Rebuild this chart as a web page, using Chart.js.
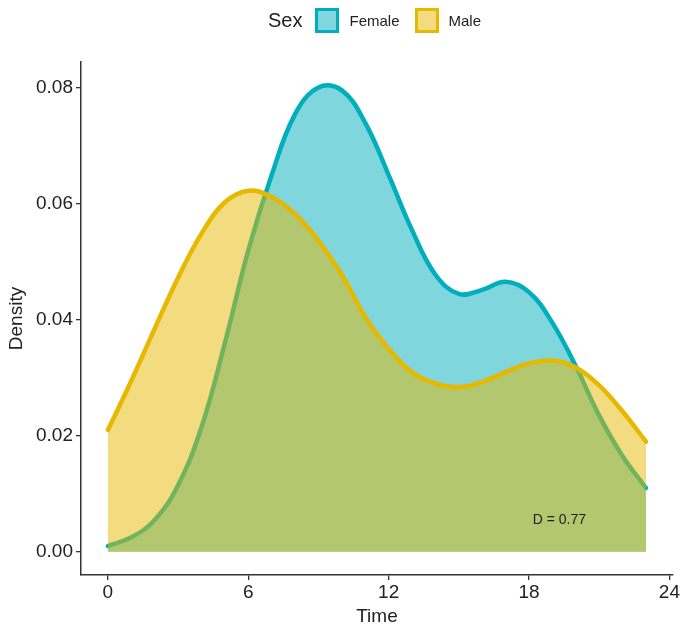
<!DOCTYPE html>
<html>
<head>
<meta charset="utf-8">
<script src="https://cdn.jsdelivr.net/npm/chart.js@4"></script>
<style>
  body { margin: 0; background: #fff; font-family: "Liberation Sans", Arial, sans-serif; }
  #wrap { position: relative; width: 681px; height: 625px; }
  #legend { position: absolute; top: 8px; left: 268px; display: flex; align-items: center; color: #222; }
  #legend .title { font-size: 20px; margin-right: 13px; }
  #legend .box { width: 18px; height: 19px; border: 3px solid; box-sizing: content-box; margin-right: 10px; }
  #legend .lab { font-size: 15px; margin-right: 15px; }
</style>
</head>
<body>
<div id="wrap">
  <canvas id="chart" width="681" height="625"></canvas>
  <div id="legend">
    <span class="title">Sex</span>
    <span class="box" style="border-color:#00AFBB;background:rgba(0,175,187,0.5)"></span>
    <span class="lab">Female</span>
    <span class="box" style="border-color:#E7B800;background:rgba(231,184,0,0.5)"></span>
    <span class="lab">Male</span>
  </div>
</div>
<script>
// --- Data ---
const hours = [0, 1, 2, 3, 4, 5, 6, 7, 8, 9, 10, 11, 12, 13, 14, 15, 16, 17, 18, 19, 20, 21, 22, 23];
const femaleDensity = [0.001, 0.0025, 0.0055, 0.0115, 0.0215, 0.036, 0.052, 0.065, 0.0755, 0.0801, 0.0796, 0.074,
    0.065, 0.0555, 0.0478, 0.0445, 0.0452, 0.0466, 0.0448, 0.0395, 0.032, 0.0235, 0.0165, 0.011];
const maleDensity = [0.021, 0.0295, 0.0385, 0.0473, 0.0549, 0.0603, 0.0623, 0.0612, 0.0583, 0.0537, 0.0478, 0.0405,
    0.035, 0.031, 0.029, 0.0284, 0.0293, 0.031, 0.0325, 0.033, 0.0318, 0.0287, 0.0242, 0.019];
const xTicks = [0, 6, 12, 18, 24];
const yTicks = [0, 0.02, 0.04, 0.06, 0.08];
const annotationText = 'D = 0.77';

const toPoints = (ys) => hours.map((h, i) => ({ x: h, y: ys[i] }));

// draws the "D = 0.77" label in data coordinates
const labelPlugin = {
    id: 'dLabel',
    afterDatasetsDraw(chart) {
        const { ctx, scales } = chart;
        ctx.save();
        ctx.font = '14px "Liberation Sans", Arial, sans-serif';
        ctx.fillStyle = '#222';
        ctx.textAlign = 'center';
        ctx.textBaseline = 'middle';
        ctx.fillText(annotationText, scales.x.getPixelForValue(19.3), scales.y.getPixelForValue(0.0055));
        ctx.restore();
    }
};

const axisFont = { family: '"Liberation Sans", Arial, sans-serif', size: 19 };

new Chart(document.getElementById('chart'), {
    type: 'line',
    data: {
        datasets: [
            {
                label: 'Female',
                data: toPoints(femaleDensity),
                borderColor: '#00AFBB',
                backgroundColor: 'rgba(0,175,187,0.5)',
                borderWidth: 4.5,
                fill: 'origin',
                order: 2
            },
            {
                label: 'Male',
                data: toPoints(maleDensity),
                borderColor: '#E7B800',
                backgroundColor: 'rgba(231,184,0,0.5)',
                borderWidth: 4.5,
                fill: 'origin',
                order: 1
            }
        ]
    },
    options: {
        responsive: false,
        animation: false,
        layout: { padding: { left: 0, right: 8, top: 62, bottom: 0 } },
        elements: {
            point: { radius: 0 },
            line: { tension: 0.4, borderCapStyle: 'round' }
        },
        plugins: { legend: { display: false }, tooltip: { enabled: false } },
        scales: {
            x: {
                type: 'linear',
                min: -1.15,
                max: 24.15,
                afterBuildTicks: (s) => { s.ticks = xTicks.map(v => ({ value: v })); },
                afterFit: (s) => { s.height = 50; },
                grid: { drawOnChartArea: false, drawTicks: true, tickLength: 5, color: '#333', lineWidth: 1.3 },
                border: { display: true, color: '#333', width: 1.5 },
                ticks: { color: '#222', font: axisFont, padding: 1, maxRotation: 0 },
                title: { display: true, text: 'Time', color: '#222', font: axisFont, padding: { top: 0, bottom: -3 } }
            },
            y: {
                type: 'linear',
                min: -0.004,
                max: 0.0845,
                afterBuildTicks: (s) => { s.ticks = yTicks.map(v => ({ value: v })); },
                afterFit: (s) => { s.width = 81; },
                grid: { drawOnChartArea: false, drawTicks: true, tickLength: 5, color: '#333', lineWidth: 1.3 },
                border: { display: true, color: '#333', width: 1.5 },
                ticks: { color: '#222', font: axisFont, padding: 3, callback: (v) => v.toFixed(2) },
                title: { display: true, text: 'Density', color: '#222', font: axisFont, padding: { top: 5, bottom: 0 } }
            }
        }
    },
    plugins: [labelPlugin]
});
</script>
</body>
</html>
